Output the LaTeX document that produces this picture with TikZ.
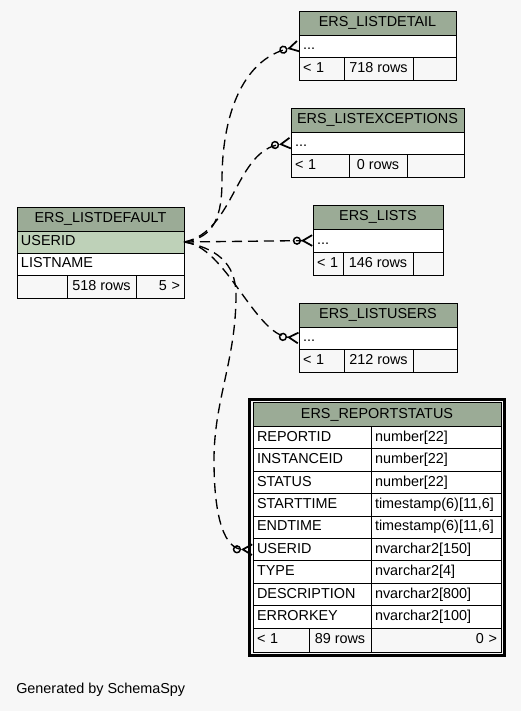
\documentclass[tikz,border=0pt]{standalone}
\usepackage{fontspec}
\setmainfont{Liberation Sans}
\usepackage{tikz}
\usetikzlibrary{arrows.meta,positioning,fit}
\definecolor{bgcol}{HTML}{F7F7F7}
\definecolor{hdrcol}{HTML}{9BAB96}
\definecolor{keycol}{HTML}{BED1B8}
\tikzset{
  cell/.style={draw=black, line width=0.75pt, anchor=north west, inner sep=0pt, outer sep=0pt,
    text height=8pt, text depth=2.5pt, font=\fontsize{10.8pt}{13pt}\selectfont},
  hdr/.style 2 args={cell, fill=hdrcol, minimum width=#1*0.75pt, minimum height=#2*0.75pt},
  fld/.style 2 args={cell, fill=white, inner xsep=3pt, text width=(#1-8)*0.75pt, align=left, minimum height=#2*0.75pt},
  keyfld/.style 2 args={fld={#1}{#2}, fill=keycol},
  footl/.style 2 args={fld={#1}{#2}, fill=bgcol},
  footc/.style 2 args={cell, fill=bgcol, minimum width=#1*0.75pt, minimum height=#2*0.75pt},
  footr/.style 2 args={fld={#1}{#2}, fill=bgcol, align=right},
  thickframe/.style={draw=black, line width=2.25pt, inner sep=2.6pt},
  rel/.style={line width=1pt, dash pattern=on 7.5pt off 4.5pt,
    -{Circle[open,length=6.2pt,line width=1.1pt] Straight Barb[reversed,length=7pt,width=8pt,line width=1.3pt]}},
}

\begin{document}
\begin{tikzpicture}[x=0.75pt,y=-0.75pt]
  \path[fill=bgcol, use as bounding box] (0,0) rectangle (521,711);

  % LISTDEFAULT
  \node[hdr={167}{24}] (dflt) at (17,207) {ERS\_LISTDEFAULT};
  \node[keyfld={167}{22}, below=0pt of dflt] (dflt-1) {USERID};
  \node[fld={167}{22}, below=0pt of dflt-1] (dflt-2) {LISTNAME};
  \node[footl={50}{23}, below=0pt of dflt-2.south west, anchor=north west] (dflt-f1) {};
  \node[footc={69}{23}, right=0pt of dflt-f1] (dflt-f2) {518 rows};
  \node[footr={48}{23}, right=0pt of dflt-f2] (dflt-f3) {5 >};

  % LISTDETAIL
  \node[hdr={157}{24}] (detail) at (299,11) {ERS\_LISTDETAIL};
  \node[fld={157}{22}, below=0pt of detail] (detail-1) {...};
  \node[footl={45}{23}, below=0pt of detail-1.south west, anchor=north west] (detail-f1) {< 1};
  \node[footc={69}{23}, right=0pt of detail-f1] (detail-f2) {718 rows};
  \node[footr={43}{23}, right=0pt of detail-f2] (detail-f3) {};

  % LISTEXCEPTIONS
  \node[hdr={173}{24}] (except) at (291,108) {ERS\_LISTEXCEPTIONS};
  \node[fld={173}{22}, below=0pt of except] (except-1) {...};
  \node[footl={58}{23}, below=0pt of except-1.south west, anchor=north west] (except-f1) {< 1};
  \node[footc={58}{23}, right=0pt of except-f1] (except-f2) {0 rows};
  \node[footr={57}{23}, right=0pt of except-f2] (except-f3) {};

  % LISTS
  \node[hdr={130}{24}] (lists) at (313,205) {ERS\_LISTS};
  \node[fld={130}{23}, below=0pt of lists] (lists-1) {...};
  \node[footl={30}{23}, below=0pt of lists-1.south west, anchor=north west] (lists-f1) {< 1};
  \node[footc={70}{23}, right=0pt of lists-f1] (lists-f2) {146 rows};
  \node[footr={30}{23}, right=0pt of lists-f2] (lists-f3) {};

  % LISTUSERS
  \node[hdr={158}{24}] (lusers) at (299,303) {ERS\_LISTUSERS};
  \node[fld={158}{22}, below=0pt of lusers] (lusers-1) {...};
  \node[footl={45}{23}, below=0pt of lusers-1.south west, anchor=north west] (lusers-f1) {< 1};
  \node[footc={69}{23}, right=0pt of lusers-f1] (lusers-f2) {212 rows};
  \node[footr={44}{23}, right=0pt of lusers-f2] (lusers-f3) {};

  % REPORTSTATUS
  \node[hdr={248}{24}] (rs) at (253,402.5) {ERS\_REPORTSTATUS};
  \foreach \nm/\ty [count=\i] in {REPORTID/number[22], INSTANCEID/number[22], STATUS/number[22],
      STARTTIME/{timestamp(6)[11,6]}, ENDTIME/{timestamp(6)[11,6]}, USERID/nvarchar2[150],
      TYPE/nvarchar2[4], DESCRIPTION/nvarchar2[800], ERRORKEY/nvarchar2[100]} {
    \node[fld={118}{22.4}] (rs-\i) at (253,{426.5+22.4*(\i-1)}) {\nm};
    \node[fld={130}{22.4}] (rt-\i) at (rs-\i.north east) {\ty};
  }
  \node[footl={56}{24}, below=0pt of rs-9.south west, anchor=north west] (rs-f1) {< 1};
  \node[footc={62}{24}, right=0pt of rs-f1] (rs-f2) {89 rows};
  \node[footr={130}{24}, right=0pt of rs-f2] (rs-f3) {0 >};
  \node[thickframe, fit=(rs)(rs-f3)] (rsbox) {};

  % relationships
  \draw[rel] (dflt-1.east) .. controls (215,238) and (222,215) .. (222,180)
    .. controls (222,120) and (240,60) .. (detail-1.west);
  \draw[rel] (dflt-1.east) .. controls (235,232) and (235,150) .. (except-1.west);
  \draw[rel] (dflt-1.east) -- (lists-1.west);
  \draw[rel] (dflt-1.east) .. controls (225,245) and (255,335) .. (lusers-1.west);
  \draw[rel] (dflt-1.east) .. controls (215,248) and (236,262) .. (236,295)
    .. controls (236,360) and (214,400) .. (214,460)
    .. controls (214,520) and (225,549) .. (rs-6.west);

  \node[anchor=west, inner sep=0pt, font=\fontsize{10.8pt}{13pt}\selectfont] (credit) at (16,690) {Generated by SchemaSpy};
\end{tikzpicture}
\end{document}
